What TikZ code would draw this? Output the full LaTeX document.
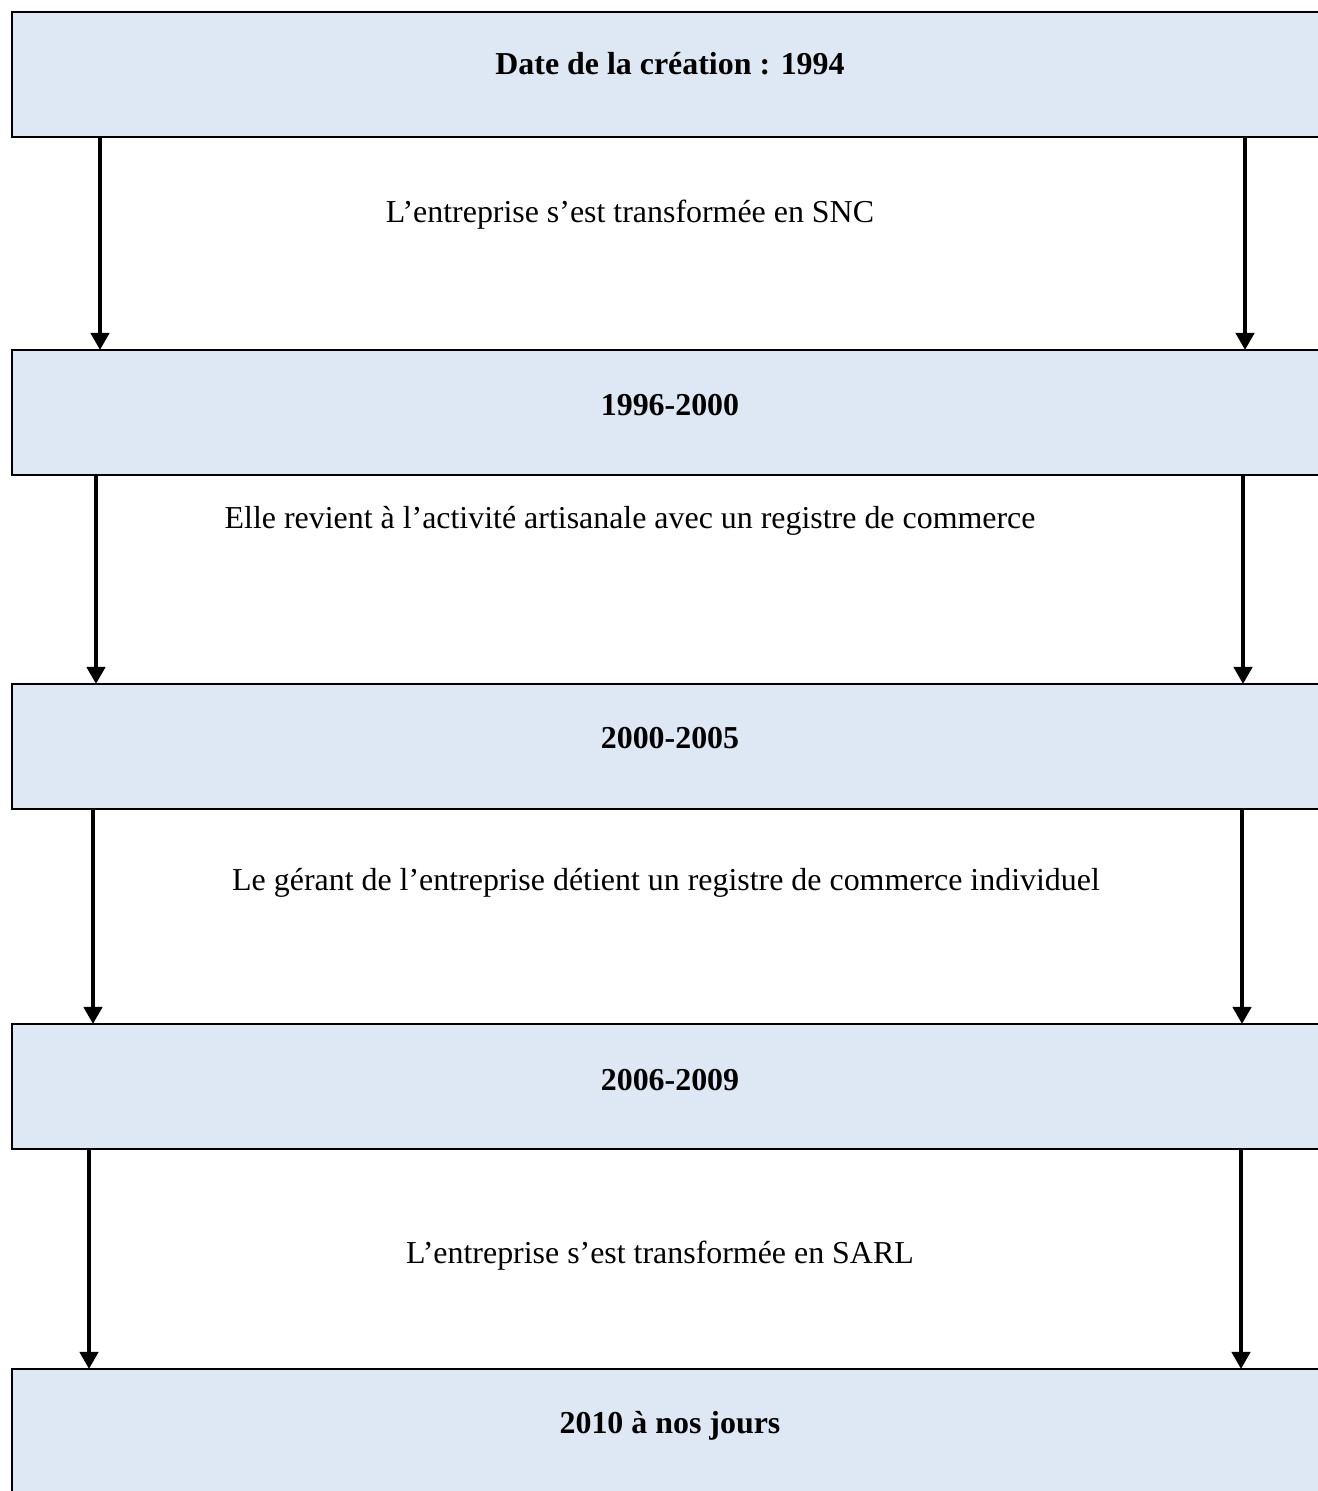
\documentclass[tikz,border=0pt]{standalone}
\usepackage{fontspec}
\setmainfont{Liberation Serif}
\usepackage{tikz}
\usetikzlibrary{arrows.meta}

\definecolor{stagefill}{HTML}{DEE8F4}

\tikzset{
    stage/.style = {draw = black, line width = 1.1pt, fill = stagefill, rectangle,
        anchor = north west, outer sep = 0pt, inner sep = 0pt,
        minimum width = 496pt, minimum height = 47pt},
    period/.style = {font = {\fontsize{12}{14}\selectfont\bfseries}, black, anchor = base},
    event/.style = {font = {\fontsize{12}{14}\selectfont}, black, anchor = base},
    flow/.style = {line width = 1.5pt, -{Triangle[length = 6.4pt, width = 6.8pt]}}
}

\begin{document}
\begin{tikzpicture}[x = 0.376pt, y = -0.376pt]
        \useasboundingbox (0, 0) rectangle (1317, 1491);

        % boxes
        \node[stage] (b1) at (12, 12) {};
        \node[stage] (b2) at (12, 350) {};
        \node[stage] (b3) at (12, 684) {};
        \node[stage] (b4) at (12, 1024) {};
        \node[stage] (b5) at (12, 1369) {};

        % periods
        \node[period] (p1) at (670, 75) {Date de la création : 1994};
        \node[period] (p2) at (670, 415) {1996-2000};
        \node[period] (p3) at (670, 748) {2000-2005};
        \node[period] (p4) at (670, 1090) {2006-2009};
        \node[period] (p5) at (670, 1433) {2010 à nos jours};

        % events
        \node[event] (e1) at (630, 223) {L’entreprise s’est transformée en SNC};
        \node[event] (e2) at (630, 528) {Elle revient à l’activité artisanale avec un registre de commerce};
        \node[event] (e3) at (666, 890) {Le gérant de l’entreprise détient un registre de commerce individuel};
        \node[event] (e4) at (660, 1263) {L’entreprise s’est transformée en SARL};

        % left arrows
        \draw[flow] (100, 0 |- b1.south) -- (100, 0 |- b2.north);
        \draw[flow] (96, 0 |- b2.south) -- (96, 0 |- b3.north);
        \draw[flow] (93, 0 |- b3.south) -- (93, 0 |- b4.north);
        \draw[flow] (89, 0 |- b4.south) -- (89, 0 |- b5.north);

        % right arrows
        \draw[flow] (1245, 0 |- b1.south) -- (1245, 0 |- b2.north);
        \draw[flow] (1243, 0 |- b2.south) -- (1243, 0 |- b3.north);
        \draw[flow] (1242, 0 |- b3.south) -- (1242, 0 |- b4.north);
        \draw[flow] (1241, 0 |- b4.south) -- (1241, 0 |- b5.north);

    \end{tikzpicture}
\end{document}
